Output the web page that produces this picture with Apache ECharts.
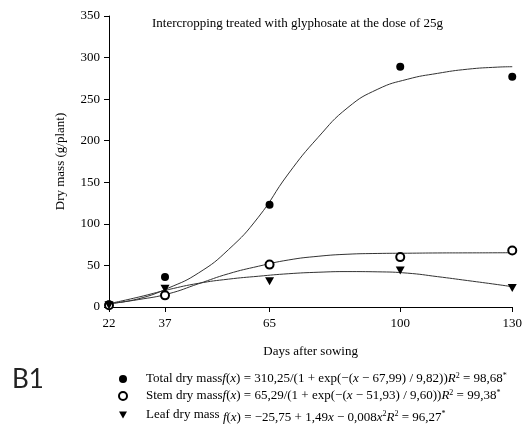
<!DOCTYPE html>
<html>
<head>
<meta charset="utf-8">
<script src="https://cdn.jsdelivr.net/npm/echarts@6/dist/echarts.min.js"></script>
<style>html,body{margin:0;padding:0;background:#fff;}#c{width:525px;height:429px;}</style>
</head>
<body>
<div id="c"></div>
<script>
// ---- data ----
const days = [22, 37, 65, 100, 130];
const totalObs = [3, 36, 123, 289, 277];
const stemObs = [2, 14, 51, 60, 68];
const leafObs = [2, 22, 31, 44, 23];

// fitted curves at these days
const curveX = [22, 30, 38, 46, 54, 62, 70, 78, 86, 94, 102, 110, 118, 126, 130];
const totalCurveY = [4, 10, 23, 41, 69, 108, 160, 204, 240, 262, 274, 281, 286, 288.5, 289];
const stemCurveY = [4, 9, 16, 28, 40, 49, 56.5, 61, 63.5, 64.4, 64.7, 65, 65.1, 65.2, 65.3];
const leafCurveY = [4, 12, 21, 28.5, 33.5, 37, 40, 41.8, 42.6, 42.3, 40.7, 36.5, 31.8, 27, 24.4];

const yTicks = [0, 50, 100, 150, 200, 250, 300, 350];

const zip = (xs, ys) => xs.map((x, i) => [x, ys[i]]);
const serif = 'Liberation Serif';
const tri = 'path://M0,0L10,0L5,9Z';

const chart = echarts.init(document.getElementById('c'));
const legendText = {
  'Total dry mass': '{sp|}{n|Total dry mass}{i|f}{n|(}{i|x}{n|) = 310,25/(1 + exp(−(}{i|x}{n| − 67,99) / 9,82))}{i|R}{s|2}{n| = 98,68}{s|*}',
  'Stem dry mass': '{sp|}{n|Stem dry mass}{i|f}{n|(}{i|x}{n|) = 65,29/(1 + exp(−(}{i|x}{n| − 51,93) / 9,60))}{i|R}{s|2}{n| = 99,38}{s|*}',
  'Leaf dry mass': '{sp|}{n|Leaf dry mass }{di|f}{dn|(}{di|x}{dn|) = −25,75 + 1,49}{di|x}{dn| − 0,008}{di|x}{ds|2}{di|R}{ds|2}{dn| = 96,27}{ds|*}'
};
chart.setOption({
  animation: false,
  backgroundColor: '#fff',
  title: {
    text: 'Intercropping treated with glyphosate at the dose of 25g',
    left: 152, top: 17, padding: 0,
    textStyle: {fontFamily: serif, fontSize: 13, fontWeight: 'normal', color: '#000'}
  },
  graphic: [{
    type: 'text', left: 12, top: 367,
    style: {text: 'B1', fontFamily: 'Lato', fontSize: 26, fill: '#222'}
  }],
  legend: {
    orient: 'vertical', left: 118, top: 372, height: 80, padding: 0,
    itemWidth: 8, itemHeight: 8, itemGap: 3,
    data: [
      {name: 'Total dry mass', icon: 'circle'},
      {name: 'Stem dry mass', icon: 'emptyCircle'},
      {name: 'Leaf dry mass', icon: tri}
    ],
    formatter: n => legendText[n],
    textStyle: {
      color: '#000', fontFamily: serif, fontSize: 13,
      rich: {
        sp: {width: 14},
        n: {fontFamily: serif, fontSize: 13, lineHeight: 14},
        i: {fontFamily: serif, fontSize: 13, fontStyle: 'italic', lineHeight: 14},
        s: {fontFamily: serif, fontSize: 8, lineHeight: 8, padding: [0, 0, 6, 0]},
        dn: {fontFamily: serif, fontSize: 13, lineHeight: 14, padding: [5, 0, 0, 0]},
        di: {fontFamily: serif, fontSize: 13, fontStyle: 'italic', lineHeight: 14, padding: [5, 0, 0, 0]},
        ds: {fontFamily: serif, fontSize: 8, lineHeight: 8, padding: [0, 0, 3, 0]}
      }
    }
  },
  grid: {left: 109, right: 12, top: 16, bottom: 122},
  xAxis: {
    type: 'value', min: 22, max: 130,
    name: 'Days after sowing', nameLocation: 'middle', nameGap: 38,
    nameTextStyle: {fontFamily: serif, fontSize: 13, color: '#000'},
    axisLine: {lineStyle: {color: '#000', width: 1}},
    axisTick: {customValues: days, length: 5, lineStyle: {color: '#000'}},
    axisLabel: {customValues: days, fontFamily: serif, fontSize: 13, color: '#000', margin: 10},
    splitLine: {show: false}
  },
  yAxis: {
    type: 'value', min: 0, max: 350, interval: 50,
    name: 'Dry mass (g/plant)', nameLocation: 'middle', nameGap: 42,
    nameTextStyle: {fontFamily: serif, fontSize: 13, color: '#000'},
    axisLine: {show: true, lineStyle: {color: '#000', width: 1}},
    axisTick: {show: true, length: 5, lineStyle: {color: '#000'}},
    axisLabel: {customValues: yTicks, fontFamily: serif, fontSize: 13, color: '#000', margin: 9},
    splitLine: {show: false}
  },
  series: [
    {type: 'line', name: 'tc', data: zip(curveX, totalCurveY), smooth: 0.5, symbol: 'none',
      lineStyle: {color: '#333', width: 1}, z: 1, silent: true},
    {type: 'line', name: 'sc', data: zip(curveX, stemCurveY), smooth: 0.5, symbol: 'none',
      lineStyle: {color: '#333', width: 1}, z: 1, silent: true},
    {type: 'line', name: 'lc', data: zip(curveX, leafCurveY), smooth: 0.5, symbol: 'none',
      lineStyle: {color: '#333', width: 1}, z: 1, silent: true},
    {type: 'scatter', name: 'Total dry mass', data: zip(days, totalObs), symbol: 'circle', symbolSize: 8,
      itemStyle: {color: '#000', opacity: 1}, z: 3},
    {type: 'scatter', name: 'Stem dry mass', data: zip(days, stemObs), symbol: 'emptyCircle', symbolSize: 8,
      itemStyle: {color: '#000', borderColor: '#000', borderWidth: 1, opacity: 1}, z: 3},
    {type: 'scatter', name: 'Leaf dry mass', data: zip(days, leafObs), symbol: tri, symbolSize: [9, 8],
      itemStyle: {color: '#000', opacity: 1}, z: 3}
  ]
});
</script>
</body>
</html>
